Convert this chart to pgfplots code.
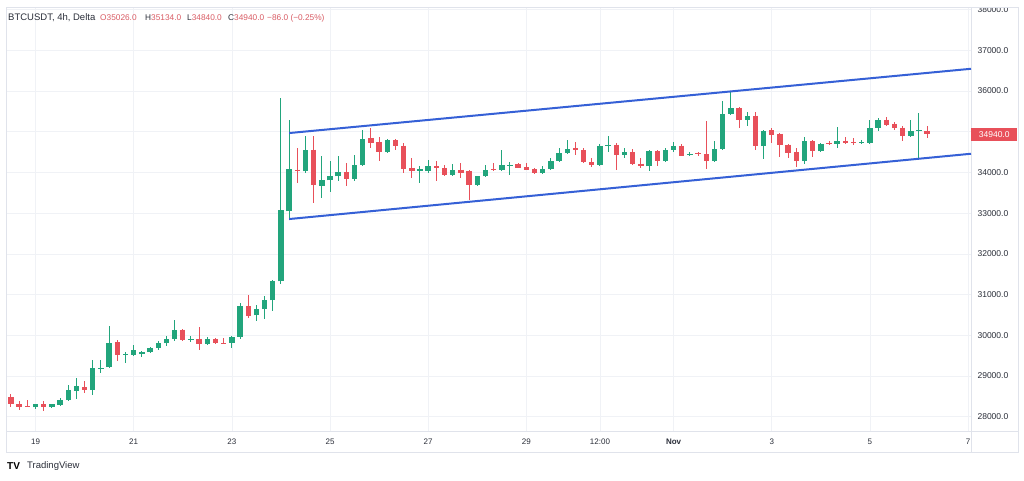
\documentclass[border=0pt]{standalone}
\usepackage{fontspec}
\setmainfont{Liberation Sans}
\usepackage{pgfplots}
\usepackage{pgfplotstable}
\pgfplotsset{compat=1.18}
\definecolor{up}{HTML}{22A57C}
\definecolor{down}{HTML}{E8505A}
\definecolor{chan}{HTML}{3560D6}
\definecolor{gridc}{HTML}{F0F2F6}
\definecolor{framec}{HTML}{E0E3EB}
\definecolor{txt}{HTML}{2A2E39}
\definecolor{hdrred}{HTML}{D95C64}

\pgfplotstableread{
i o h l c
3 28230 28320 28200 28302
5 28238 28320 28210 28302
6 28295 28459 28253 28418
7 28418 28786 28376 28646
8 28639 28950 28434 28745
10 28663 29400 28540 29197
11 29180 29400 29074 29200
12 29221 30236 29210 29811
14 29520 29580 29319 29540
15 29523 29769 29480 29646
16 29530 29610 29460 29589
17 29589 29720 29560 29688
18 29688 29850 29650 29811
19 29800 29974 29740 29909
20 29909 30366 29850 30120
22 29900 29990 29826 29915
24 29794 29950 29770 29909
27 29811 29990 29688 29958
28 29958 30793 29909 30727
30 30490 30750 30341 30645
31 30645 30956 30400 30858
32 30858 31368 30587 31325
33 31325 35831 31250 33086
34 33045 35297 32882 34093
36 34027 34888 33988 34560
38 33676 34396 33374 33806
39 33806 34273 33511 33921
40 33900 34396 33782 34003
42 33840 34437 33782 34192
43 34192 35052 34150 34823
46 34495 34810 34470 34790
50 34040 34150 33742 34086
51 34030 34315 33988 34167
54 33946 34200 33920 34069
57 33700 33920 33680 33904
58 33904 34180 33890 34069
60 34060 34543 34030 34176
61 34160 34249 33946 34180
65 33988 34150 33965 34086
66 34086 34356 34060 34290
67 34290 34602 34270 34479
68 34479 34789 34450 34577
72 34192 34690 34170 34658
73 34660 34904 34494 34680
75 34437 34602 34356 34490
78 34150 34560 34027 34519
80 34273 34600 34250 34560
81 34560 34740 34510 34658
83 34440 34500 34395 34460
86 34273 34765 34250 34577
87 34577 35747 34560 35445
88 35445 35993 35420 35585
90 35297 35486 35150 35396
92 34642 35050 34331 35010
97 34273 34872 34200 34765
99 34519 34725 34500 34708
101 34708 35118 34608 34765
104 34725 34790 34710 34735
105 34725 35280 34710 35093
106 35093 35340 35010 35297
110 34904 35297 34880 35027
111 35020 35462 34331 35040
}\greentab

\pgfplotstableread{
i o h l c
0 28474 28565 28238 28312
1 28312 28376 28172 28238
2 28262 28418 28238 28248
4 28302 28376 28147 28238
9 28729 28867 28582 28663
13 29826 29892 29359 29523
21 30138 30150 29850 29892
23 29909 30204 29629 29794
25 29909 29930 29790 29811
26 29810 29930 29790 29800
29 30710 30998 30425 30465
35 34069 34602 33742 34027
37 34560 34888 33251 33700
41 34003 34233 33659 33840
44 34848 35093 34602 34725
45 34750 34880 34273 34495
47 34790 34830 34560 34659
48 34659 34720 33988 34085
49 34111 34356 33865 34040
52 34150 34273 33782 34110
53 34110 34180 33900 33946
55 34069 34233 33865 33988
56 34030 34070 33332 33700
59 34080 34233 34030 34060
62 34200 34230 34095 34111
63 34120 34230 34050 34070
64 34080 34100 33970 33988
69 34602 34740 34437 34543
70 34543 34600 34220 34249
71 34260 34356 34135 34192
74 34680 34720 34069 34437
76 34490 34580 34190 34216
77 34216 34356 34111 34150
79 34519 34560 34150 34273
82 34658 34690 34395 34413
84 34470 34490 34410 34440
85 34440 35273 34086 34273
89 35585 35600 35093 35297
91 35396 35486 34560 34642
93 35030 35093 34725 34929
94 34946 34970 34381 34683
95 34683 34700 34360 34479
96 34490 34600 34135 34273
98 34765 34800 34381 34519
100 34730 34770 34680 34700
102 34780 34880 34700 34725
103 34740 34840 34680 34725
107 35297 35360 35130 35174
108 35190 35230 35040 35093
109 35100 35150 34765 34904
112 35026 35134 34840 34940
}\redtab

\begin{document}
\begin{tikzpicture}
\fill[white] (0,0) rectangle (1024pt,480pt);
\path[use as bounding box] (0,0) rectangle (1024pt,480pt);
\begin{axis}[
  at={(6pt,49pt)}, anchor=south west,
  scale only axis, width=965pt, height=424pt,
  xmin=-0.61, xmax=117.36, ymin=27650, ymax=38060,
  axis line style={draw=framec, line width=0.6pt},
  xtick={3,15,27,39,51,63,72,81,93,105,117},
  xticklabels={19,21,23,25,27,29,12:00,\textbf{Nov},3,5,7},
  ytick={28000,29000,...,38000},
  yticklabels={28000.0,29000.0,30000.0,31000.0,32000.0,33000.0,34000.0,{},36000.0,37000.0,38000.0},
  yticklabel pos=right,
  major tick length=0pt,
  grid=major,
  major grid style={draw=gridc, line width=0.6pt},
  tick label style={font=\fontsize{8}{9}\selectfont, text=txt},
  yticklabel style={font=\fontsize{8.5}{9}\selectfont, xshift=3pt},
  xticklabel style={yshift=-4pt},
  clip=false,
]
% wicks
\addplot[draw=none, mark=none, error bars/.cd, y dir=both, y explicit, error mark=none,
  error bar style={line width=1pt, draw=up}]
  table[x=i, y=o, y error plus expr=\thisrow{h}-\thisrow{o}, y error minus expr=\thisrow{o}-\thisrow{l}] {\greentab};
\addplot[draw=none, mark=none, error bars/.cd, y dir=both, y explicit, error mark=none,
  error bar style={line width=1pt, draw=down}]
  table[x=i, y=o, y error plus expr=\thisrow{h}-\thisrow{o}, y error minus expr=\thisrow{o}-\thisrow{l}] {\redtab};
% bodies
\addplot[draw=none, mark=none, error bars/.cd, y dir=plus, y explicit, error mark=none,
  error bar style={line width=5.4pt, draw=up, line cap=butt}]
  table[x=i, y=o, y error plus expr=\thisrow{c}-\thisrow{o}, y error minus expr=0] {\greentab};
\addplot[draw=none, mark=none, error bars/.cd, y dir=minus, y explicit, error mark=none,
  error bar style={line width=5.4pt, draw=down, line cap=butt}]
  table[x=i, y=o, y error plus expr=0, y error minus expr=\thisrow{o}-\thisrow{c}] {\redtab};
% channel
\addplot[chan, line width=2pt] coordinates {(34,34965) (117.36,36543)};
\addplot[chan, line width=2pt] coordinates {(34,32854) (117.36,34457)};
% last price label
\node[fill=down, text=white, anchor=west, minimum width=46pt, minimum height=13pt, inner sep=0pt,
  font=\fontsize{8.5}{9}\selectfont] at (axis cs:117.36,34940) {34940.0};
\end{axis}
\fill[white] (971pt,473.3pt) rectangle (1018pt,480pt);
\draw[framec, line width=0.6pt] (6pt,28pt) rectangle (1018pt,473pt);
\draw[framec, line width=0.6pt] (971pt,49pt) -- (1018pt,49pt);
\draw[framec, line width=0.6pt] (971pt,28pt) -- (971pt,49pt);
% header
\node[anchor=west, inner sep=0pt, font=\fontsize{9.5}{10}\selectfont, text=txt] at (8pt,462pt) {BTCUSDT, 4h, Delta};
\node[anchor=west, inner sep=0pt, font=\fontsize{8.3}{10}\selectfont, text=hdrred] at (100pt,462pt) {O35026.0};
\node[anchor=west, inner sep=0pt, font=\fontsize{8.3}{10}\selectfont, text=hdrred] at (145pt,462pt) {\textcolor{txt}{H}35134.0};
\node[anchor=west, inner sep=0pt, font=\fontsize{8.3}{10}\selectfont, text=hdrred] at (187pt,462pt) {\textcolor{txt}{L}34840.0};
\node[anchor=west, inner sep=0pt, font=\fontsize{8.3}{10}\selectfont, text=hdrred] at (228pt,462pt) {\textcolor{txt}{C}34940.0};
\node[anchor=west, inner sep=0pt, font=\fontsize{8.3}{10}\selectfont, text=hdrred] at (267pt,462pt) {−86.0 (−0.25\%)};
% logo
\node[anchor=west, inner sep=0pt, font=\fontsize{10}{10}\selectfont\bfseries, text=black] at (7pt,14pt) {TV};
\node[anchor=west, inner sep=0pt, font=\fontsize{9.5}{10}\selectfont, text=txt] at (27pt,14pt) {TradingView};
\end{tikzpicture}
\end{document}
